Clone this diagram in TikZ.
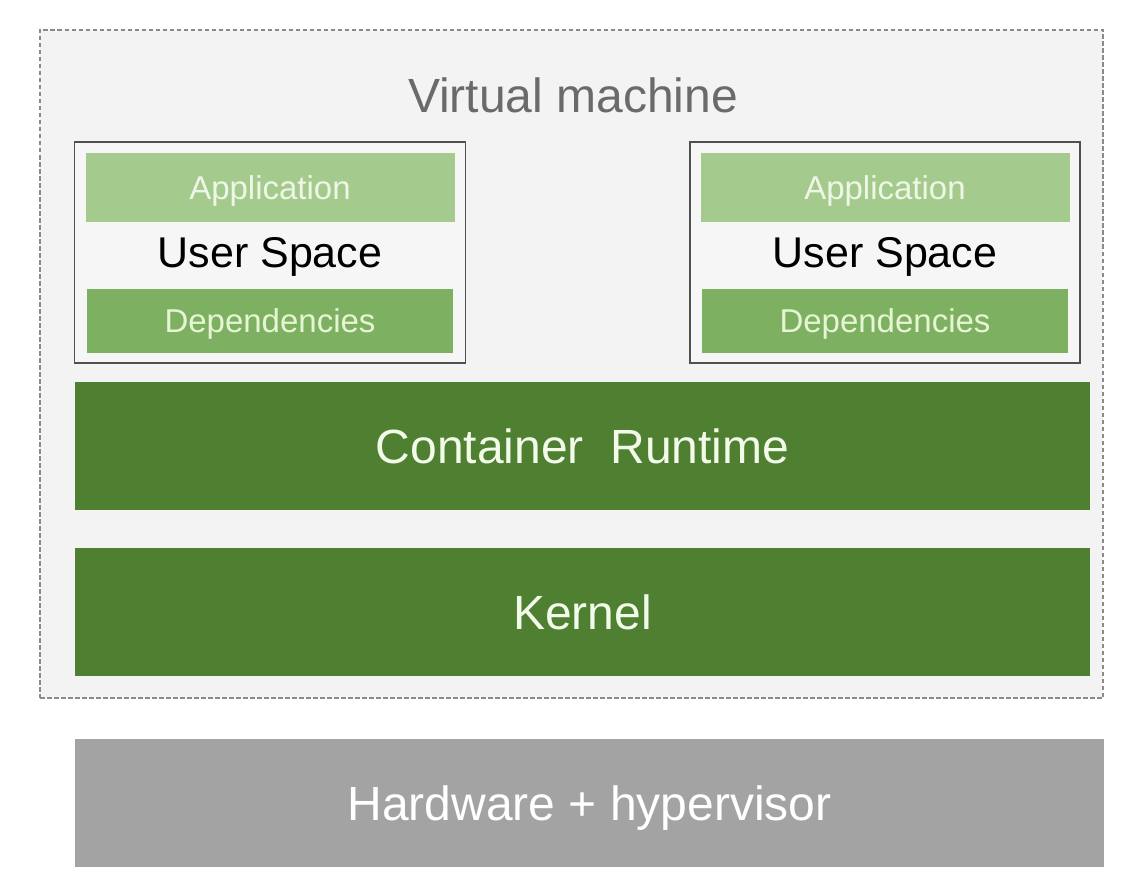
\documentclass[tikz,border=0pt]{standalone}
\usepackage{fontspec}
\setmainfont{Liberation Sans}
\usetikzlibrary{positioning}
\definecolor{vmfill}{HTML}{F3F3F3}
\definecolor{userfill}{HTML}{F6F6F6}
\definecolor{dashgray}{HTML}{8A8A8A}
\definecolor{boxgray}{HTML}{505050}
\definecolor{titlegray}{HTML}{6A6A6A}
\definecolor{appgreen}{HTML}{A5CA8D}
\definecolor{apptext}{HTML}{EEF7E6}
\definecolor{depgreen}{HTML}{7EB062}
\definecolor{deptext}{HTML}{E6F6D4}
\definecolor{layergreen}{HTML}{4F7F31}
\definecolor{layertext}{HTML}{F2FAEA}
\definecolor{hwgray}{HTML}{A3A3A3}
\tikzstyle{vmbox} = [rectangle, draw=dashgray, fill=vmfill, line width=1.3pt, dash pattern=on 4.5pt off 2.5pt, inner sep=0pt, minimum width=1063pt, minimum height=668pt]
\tikzstyle{userbox} = [rectangle, draw=boxgray, fill=userfill, line width=1.5pt, inner sep=0pt, minimum width=391pt, minimum height=221pt]
\tikzstyle{appbar} = [rectangle, fill=appgreen, text=apptext, font=\fontsize{33}{40}\selectfont, inner sep=0pt, minimum width=369pt, minimum height=69pt, text height=23.6pt, text depth=0pt]
\tikzstyle{depbar} = [rectangle, fill=depgreen, text=deptext, font=\fontsize{33}{40}\selectfont, inner sep=0pt, minimum width=366pt, minimum height=64pt, text height=23.6pt, text depth=0pt]
\tikzstyle{layer} = [rectangle, fill=layergreen, text=layertext, font=\fontsize{48}{58}\selectfont, inner sep=0pt, minimum width=1015pt, minimum height=127.5pt, text height=34.4pt, text depth=0pt]
\tikzstyle{hwbar} = [layer, fill=hwgray, text=white, minimum width=1029pt]

\begin{document}
\begin{tikzpicture}[x=1pt, y=-1pt]
			\useasboundingbox (0,0) rectangle (1140,896);
			\node (vm) [vmbox] at (571.5,364) {};
			\node (title) [text=titlegray, font=\fontsize{48}{58}\selectfont, inner sep=0pt, text height=33pt, text depth=0pt] at (573,96) {Virtual machine};

			% user spaces
			\node (usrL) [userbox] at (270,252.5) {};
			\node (appL) [appbar, anchor=north] at ([yshift=-12pt]usrL.north) {Application};
			\node (depL) [depbar, anchor=south] at ([yshift=11pt]usrL.south) {Dependencies};
			\node (txtL) [font=\fontsize{43}{52}\selectfont, inner sep=0pt, text height=30.8pt, text depth=0pt] at (usrL.center) {User Space};

			\node (usrR) [userbox, minimum width=390pt] at (885,252.5) {};
			\node (appR) [appbar, anchor=north] at ([yshift=-12pt]usrR.north) {Application};
			\node (depR) [depbar, anchor=south] at ([yshift=11pt]usrR.south) {Dependencies};
			\node (txtR) [font=\fontsize{43}{52}\selectfont, inner sep=0pt, text height=30.8pt, text depth=0pt] at (usrR.center) {User Space};

			% layers
			\node (runtime) [layer] at (582.5,446) {Container\ \ Runtime};
			\node (kernel) [layer, below=38pt of runtime] {Kernel};
			\node (hw) [hwbar, anchor=north west] at ([yshift=-63pt]kernel.south west) {Hardware + hypervisor};
\end{tikzpicture}
\end{document}
